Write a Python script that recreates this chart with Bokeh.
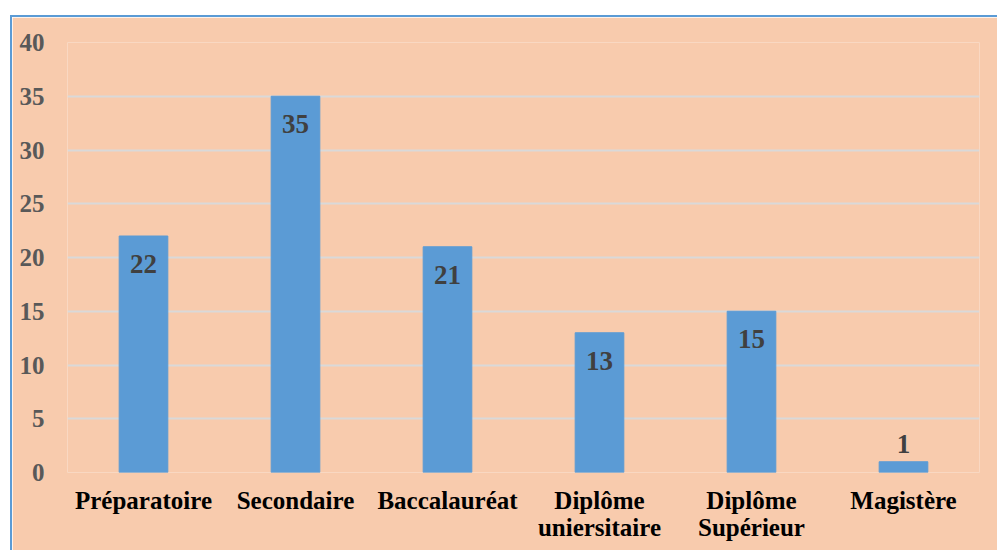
from bokeh.plotting import figure
from bokeh.models import ColumnDataSource, FixedTicker, Range1d
from bokeh.core.properties import value
from bokeh.embed import file_html
from bokeh.resources import INLINE

categories = ["Préparatoire", "Secondaire", "Baccalauréat", "Diplôme\nuniersitaire", "Diplôme\nSupérieur", "Magistère"]
counts = [22, 35, 21, 13, 15, 1]
y_ticks = [0, 5, 10, 15, 20, 25, 30, 35, 40]

BG = "#F8CBAD"
BAR = "#5B9BD5"
FONT = "Liberation Serif"

src = ColumnDataSource(dict(cat=categories, val=counts))
inside = [(c, v) for c, v in zip(categories, counts) if v >= 3]
outside = [(c, v) for c, v in zip(categories, counts) if v < 3]
src_in = ColumnDataSource(dict(cat=[c for c, _ in inside], val=[v for _, v in inside],
                               lab=[str(v) for _, v in inside]))
src_out = ColumnDataSource(dict(cat=[c for c, _ in outside], val=[v for _, v in outside],
                                lab=[str(v) for _, v in outside]))

p = figure(x_range=categories, y_range=Range1d(0, 40), width=987, height=535,
           output_backend="svg", toolbar_location=None,
           min_border_left=55, min_border_right=20, min_border_top=25, min_border_bottom=80)
p.margin = (15, 0, 0, 10)
p.styles = {"border-top": "2px solid #5B9BD5", "border-left": "2px solid #5B9BD5"}
p.background_fill_color = BG
p.border_fill_color = BG
p.outline_line_color = None

p.vbar(x="cat", top="val", width=0.32, source=src, fill_color=BAR, line_color=BAR)
common = dict(text="lab", text_align="center", text_font=value(FONT), text_font_style="bold",
              text_font_size="27px", text_color="#404040")
p.text(x="cat", y="val", source=src_in, y_offset=19, text_baseline="top", **common)
p.text(x="cat", y="val", source=src_out, y_offset=-9, text_baseline="bottom", **common)

p.xgrid.grid_line_color = None
p.ygrid.grid_line_color = "#D9D9D9"
p.ygrid.grid_line_width = 2
p.yaxis.ticker = FixedTicker(ticks=y_ticks)

for ax in (p.xaxis[0], p.yaxis[0]):
    ax.axis_line_color = None
    ax.major_tick_line_color = None
    ax.minor_tick_line_color = None
    ax.major_label_text_font = FONT
    ax.major_label_text_font_style = "bold"
    ax.major_label_text_font_size = "25px"
    ax.major_label_text_line_height = 1.0

p.yaxis.major_label_text_color = "#595959"
p.yaxis.major_label_standoff = 17
p.xaxis.major_label_text_color = "#000000"
p.xaxis.major_label_standoff = 8

open("out.html", "w").write(file_html(p, INLINE))
